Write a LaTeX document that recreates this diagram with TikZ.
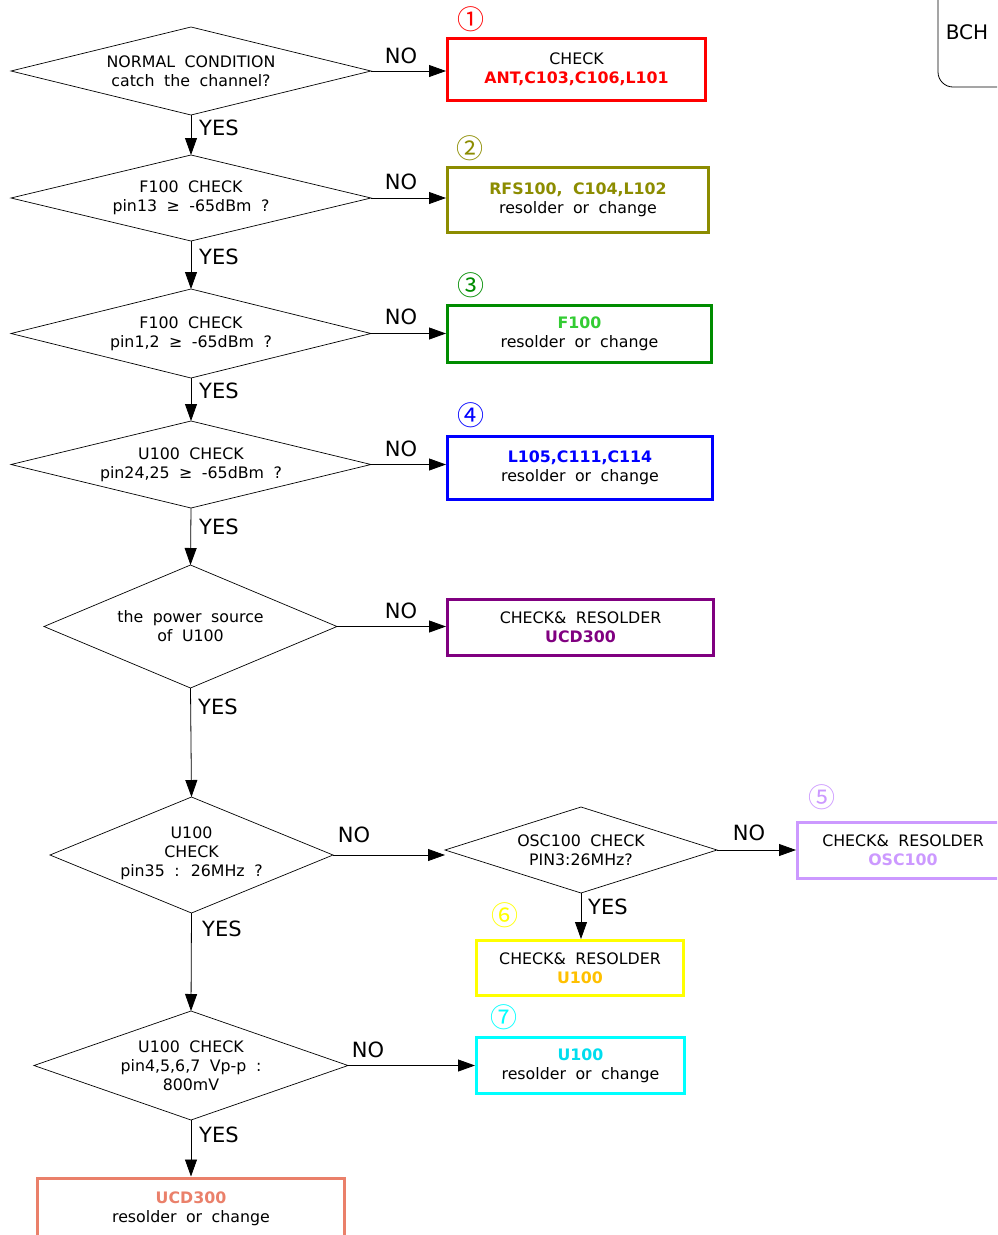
\documentclass[tikz,border=0pt]{standalone}
\usepackage{fontspec}
\setmainfont{DejaVu Sans}[WordSpace=1.9]
\newfontfamily\cjk{Noto Sans CJK JP}
\usetikzlibrary{shapes.geometric,arrows.meta}
\definecolor{cRed}{HTML}{FF0000}
\definecolor{cOlive}{HTML}{8C8C00}
\definecolor{cGreenB}{HTML}{008C00}
\definecolor{cGreenT}{HTML}{33CC33}
\definecolor{cBlue}{HTML}{0000FF}
\definecolor{cPurple}{HTML}{800080}
\definecolor{cLav}{HTML}{CC99FF}
\definecolor{cYel}{HTML}{FFFF00}
\definecolor{cGold}{HTML}{FFC000}
\definecolor{cCyan}{HTML}{00FFFF}
\definecolor{cCyanT}{HTML}{00DDEE}
\definecolor{cSalmon}{HTML}{EA806A}
\begin{document}
\begin{tikzpicture}[x=1pt,y=-1pt,
  dia/.style={draw, diamond, inner sep=0pt, outer sep=0pt, line width=0.7pt},
  dtxt/.style={align=center, font=\fontsize{15.8}{19}\selectfont, inner sep=0pt},
  box/.style={draw, line width=3pt, rectangle, align=center, inner sep=0pt, font=\fontsize{15.8}{19}\selectfont},
  arr/.style={-{Triangle[length=17pt,width=12pt]}, line width=0.8pt},
  lbl/.style={font=\fontsize{21}{22}\selectfont, inner sep=0pt},
  num/.style={font=\cjk\fontsize{27}{27}\selectfont, inner sep=0pt}]
\useasboundingbox (0,0) rectangle (997,1235);
\clip (0,0) rectangle (997,1235);

% BCH box (partly outside)
\node[draw, line width=0.8pt, rounded corners=15pt, minimum width=162pt, minimum height=187pt] (bch) at (1019,-6.5) {};
\node[font=\fontsize{20}{20}\selectfont, inner sep=0pt] (bcht) at (967,32) {BCH};

% diamonds
\node[dia, minimum width=360pt, minimum height=88pt] (d1) at (191,71) {};
\node[dtxt] (t1) at (d1) {NORMAL CONDITION\\catch the channel?};
\node[dia, minimum width=360pt, minimum height=86pt] (d2) at (191,198) {};
\node[dtxt] (t2) at (d2) {F100 CHECK\\pin13 ≥ -65dBm ?};
\node[dia, minimum width=360pt, minimum height=89pt] (d3) at (191,333.5) {};
\node[dtxt] (t3) at (d3) {F100 CHECK\\pin1,2 ≥ -65dBm ?};
\node[dia, minimum width=360pt, minimum height=87pt] (d4) at (191,464.5) {};
\node[dtxt] (t4) at (d4) {U100 CHECK\\pin24,25 ≥ -65dBm ?};
\node[dia, minimum width=293pt, minimum height=123pt] (d5) at (190.5,626.5) {};
\node[dtxt] (t5) at (d5) {the power source\\of U100};
\node[dia, minimum width=283pt, minimum height=116pt] (d6) at (191.5,855) {};
\node[dtxt] (t6) at (191.5,853.5) {U100\\CHECK\\pin35 : 26MHz ?};
\node[dia, minimum width=272pt, minimum height=86pt] (d7) at (581,850) {};
\node[dtxt] (t7) at (d7) {OSC100 CHECK\\PIN3:26MHz?};
\node[dia, minimum width=314pt, minimum height=109pt] (d8) at (191,1065.5) {};
\node[dtxt] (t8) at (d8) {U100 CHECK\\pin4,5,6,7 Vp-p :\\800mV};

% boxes
\node[box, draw=cRed, minimum width=258pt, minimum height=62pt] (b1) at (576.5,69.5)
  {CHECK\\\textcolor{cRed}{\bfseries ANT,C103,C106,L101}};
\node[box, draw=cOlive, minimum width=261pt, minimum height=65pt] (b2) at (578,200)
  {\textcolor{cOlive}{\bfseries RFS100, C104,L102}\\resolder or change};
\node[box, draw=cGreenB, minimum width=264pt, minimum height=57pt] (b3) at (579.5,334)
  {\textcolor{cGreenT}{\bfseries F100}\\resolder or change};
\node[box, draw=cBlue, minimum width=265pt, minimum height=63pt] (b4) at (580,468)
  {\textcolor{cBlue}{\bfseries L105,C111,C114}\\resolder or change};
\node[box, draw=cPurple, minimum width=266pt, minimum height=56pt] (b5) at (580.5,627.5)
  {CHECK\& RESOLDER\\\textcolor{cPurple}{\bfseries UCD300}};
\node[box, draw=cLav, minimum width=211pt, minimum height=56pt] (b6) at (903,850.5)
  {CHECK\& RESOLDER\\\textcolor{cLav}{\bfseries OSC100}};
\node[box, draw=cYel, minimum width=207pt, minimum height=55pt] (b7) at (580,968)
  {CHECK\& RESOLDER\\\textcolor{cGold}{\bfseries U100}};
\node[box, draw=cCyan, minimum width=208pt, minimum height=56pt] (b8) at (580.5,1065.5)
  {\textcolor{cCyanT}{\bfseries U100}\\resolder or change};
\node[box, draw=cSalmon, minimum width=307pt, minimum height=61pt] (b9) at (191,1208.5)
  {\textcolor{cSalmon}{\bfseries UCD300}\\resolder or change};

% circled numbers
\node[num, text=cRed] (n1) at (471,19) {①};
\node[num, text=cOlive] (n2) at (470,148) {②};
\node[num, text=cGreenB] (n3) at (471,285) {③};
\node[num, text=cBlue] (n4) at (471,415) {④};
\node[num, text=cLav] (n5) at (822,797) {⑤};
\node[num, text=cYel] (n6) at (505,915) {⑥};
\node[num, text=cCyan] (n7) at (504,1017) {⑦};

% NO connectors
\draw[arr] (d1.east) -- (d1.east -| b1.west);
\draw[arr] (d2.east) -- (d2.east -| b2.west);
\draw[arr] (d3.east) -- (d3.east -| b3.west);
\draw[arr] (d4.east) -- (d4.east -| b4.west);
\draw[arr] (d5.east) -- (d5.east -| b5.west);
\draw[arr] (d6.east) -- (d6.east -| d7.west);
\draw[arr] (d7.east) -- (d7.east -| b6.west);
\draw[arr] (d8.east) -- (d8.east -| b8.west);

% YES connectors
\draw[arr] (d1.south) -- (d2.north);
\draw[arr] (d2.south) -- (d3.north);
\draw[arr] (d3.south) -- (d4.north);
\draw[arr] (d4.south) -- (d5.north);
\draw[arr] (d5.south) -- (d6.north);
\draw[arr] (d6.south) -- (d8.north);
\draw[arr] (d7.south) -- (d7.south |- b7.north);
\draw[arr] (d8.south) -- (b9.north);

% labels
\node[lbl] (no1) at (401,56) {NO};
\node[lbl] (no2) at (401,182) {NO};
\node[lbl] (no3) at (401,317) {NO};
\node[lbl] (no4) at (401,449) {NO};
\node[lbl] (no5) at (401,611) {NO};
\node[lbl] (no6) at (354,835) {NO};
\node[lbl] (no7) at (749,833) {NO};
\node[lbl] (no8) at (368,1050) {NO};
\node[lbl, anchor=west] (y1) at (199,128) {YES};
\node[lbl, anchor=west] (y2) at (199,257) {YES};
\node[lbl, anchor=west] (y3) at (199,391) {YES};
\node[lbl, anchor=west] (y4) at (199,527) {YES};
\node[lbl, anchor=west] (y5) at (198,707) {YES};
\node[lbl, anchor=west] (y6) at (202,929) {YES};
\node[lbl, anchor=west] (y7) at (588,907) {YES};
\node[lbl, anchor=west] (y8) at (199,1135) {YES};
\end{tikzpicture}
\end{document}
